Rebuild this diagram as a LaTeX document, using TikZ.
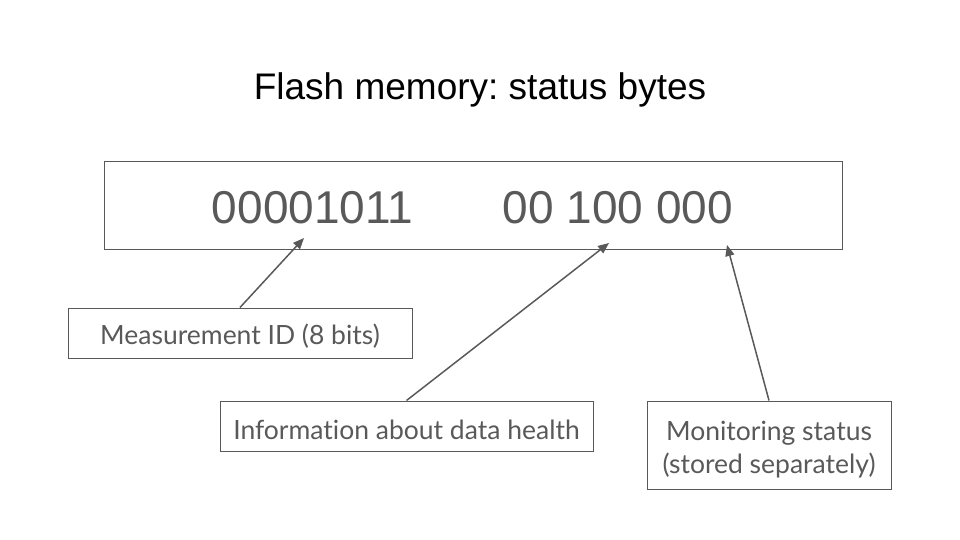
\documentclass[tikz,border=0pt]{standalone}
\usepackage{fontspec}
\setmainfont{Liberation Sans}
\newfontfamily\lato[Ligatures=NoCommon]{Lato}
\usetikzlibrary{arrows.meta}
\definecolor{dgray}{HTML}{595959}
\tikzset{
  lbl/.style={draw=dgray, line width=1pt, text=dgray, font=\lato\fontsize{26.5}{33}\selectfont, inner sep=0pt, align=center,
    execute at begin node={\rule{0pt}{27pt}}},
  digits/.style={text=dgray, font=\fontsize{46}{50}\selectfont, inner sep=0pt, anchor=base},
  arr/.style={draw=dgray, line width=1.5pt, -{Triangle[length=11pt,width=9pt]}}
}
\begin{document}
\frenchspacing
\begin{tikzpicture}[x=1pt,y=-1pt]
\useasboundingbox (0,0) rectangle (960,540);
\node[font=\fontsize{37}{44}\selectfont, anchor=base, inner sep=0pt] (title) at (480,100) {Flash memory: status bytes};
\node[draw=dgray, line width=1pt, minimum width=738pt, minimum height=87pt, inner sep=0pt] (box) at (473,205.5) {};
\node[digits] (id) at (312.5,223) {00001011};
\node[digits] (st) at (618,223) {00 100 000};
\node[lbl, minimum width=344pt, minimum height=50pt] (m) at (240,333) {Measurement ID (8 bits)};
\node[lbl, minimum width=373pt, minimum height=50pt] (i) at (406.5,426) {Information about data health};
\node[lbl, minimum width=244pt, minimum height=88pt] (s) at (769,445) {\rule{0pt}{28pt}Monitoring status\\(stored separately)};
\coordinate (t1) at (304,238);
\coordinate (t2) at (609,243);
\coordinate (t3) at (727,245);
\draw[arr] (m.north) -- (t1);
\draw[arr] (i.north) -- (t2);
\draw[arr] (s.north) -- (t3);
\end{tikzpicture}
\end{document}
